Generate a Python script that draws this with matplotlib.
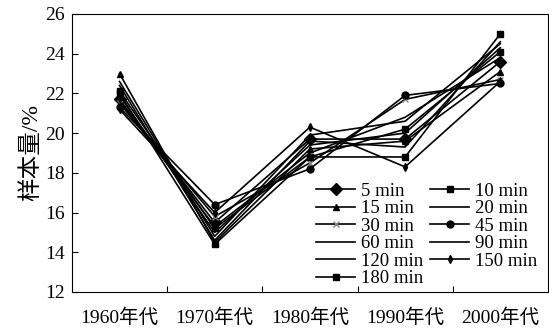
import matplotlib
matplotlib.use("Agg")
import matplotlib.pyplot as plt
import numpy as np

plt.rcParams['font.family'] = ['Liberation Serif', 'Noto Sans CJK SC']

categories = ["1960年代", "1970年代", "1980年代", "1990年代", "2000年代"]
labels = ["5 min", "10 min", "15 min", "20 min", "30 min", "45 min",
          "60 min", "90 min", "120 min", "150 min", "180 min"]
s5 = [21.7, 15.5, 19.7, 19.7, 23.6]
s10 = [22.1, 15.2, 18.8, 20.2, 24.1]
s15 = [23.0, 14.5, 19.2, 19.6, 23.1]
s20 = [22.6, 14.8, 19.9, 20.6, 24.5]
s30 = [21.5, 15.8, 18.5, 21.7, 22.7]
s45 = [21.3, 16.4, 18.2, 21.9, 22.5]
s60 = [21.9, 15.0, 19.4, 20.0, 24.3]
s90 = [21.6, 15.3, 19.0, 20.8, 23.8]
s120 = [22.4, 14.6, 19.6, 19.3, 24.6]
s150 = [21.2, 16.0, 20.3, 18.3, 22.6]
s180 = [22.0, 14.4, 18.8, 18.8, 25.0]
series = [s5, s10, s15, s20, s30, s45, s60, s90, s120, s150, s180]

styles = [
    dict(marker='D', ms=6, color='black'),
    dict(marker='s', ms=5, color='black'),
    dict(marker='^', ms=4.5, color='black'),
    dict(marker=None, color='black'),
    dict(marker='x', ms=4, color='black', mec='#888888'),
    dict(marker='o', ms=5, color='black'),
    dict(marker=None, color='black'),
    dict(marker=None, color='black'),
    dict(marker=None, color='black'),
    dict(marker='d', ms=4, color='black'),
    dict(marker='s', ms=5, color='black'),
]

fig = plt.figure(figsize=(5.49, 3.29), dpi=100)
ax = fig.add_axes([0.131, 0.1125, 0.867, 0.845])
x = np.arange(len(categories))
handles = []
for lab, s, st in zip(labels, series, styles):
    h, = ax.plot(x, s, lw=1.2, label=lab, **st)
    handles.append(h)

ax.set_xlim(-0.5, 4.5)
ax.set_ylim(12, 26)
ax.set_yticks(np.arange(12, 27, 2))
ax.set_xticks([0.5, 1.5, 2.5, 3.5])
ax.set_xticklabels([])
ax.set_xticks(x, minor=True)
ax.set_xticklabels(categories, minor=True, fontsize=14)
ax.tick_params(axis='x', which='minor', length=0, pad=12)
ax.tick_params(axis='both', which='major', direction='in', length=4, labelsize=14)
ax.tick_params(axis='y', pad=5)
ax.set_ylabel("样本量/%", fontsize=17, labelpad=2)

# row-major legend order for 2 columns
order = list(range(0, 11, 2)) + list(range(1, 11, 2))
ax.legend([handles[i] for i in order], [labels[i] for i in order],
          ncol=2, loc='lower right', bbox_to_anchor=(1.005, -0.03), frameon=False,
          fontsize=13.5, labelspacing=0.02, handlelength=2.1, handletextpad=0.3,
          columnspacing=0.35, borderpad=0.2)

fig.savefig("out.png", dpi=100)
